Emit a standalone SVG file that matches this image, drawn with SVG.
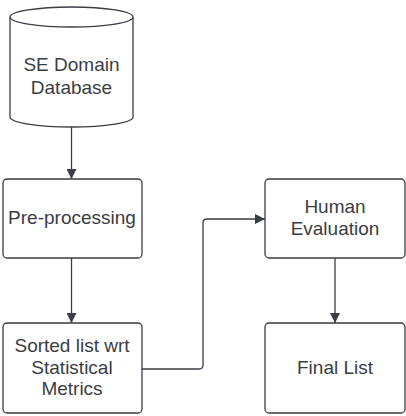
<svg xmlns="http://www.w3.org/2000/svg" width="406" height="416" viewBox="0 0 406 416">
<style>
.box{fill:#fff;stroke:#3a3d44;stroke-width:1.3}
.lbl{font-family:"Liberation Sans",Arial,sans-serif;font-size:19px;fill:#3a3d44;text-anchor:middle}
.edge{fill:none;stroke:#3a3d44;stroke-width:1.3}
</style>
<defs>
<marker id="ah" viewBox="0 0 10 10" refX="10" refY="5" markerWidth="10" markerHeight="10" markerUnits="userSpaceOnUse" orient="auto">
<path d="M0,0 L10,5 L0,10 Z" fill="#3a3d44"/>
</marker>
</defs>
<rect width="406" height="416" fill="#fff"/>
<g id="db">
<path class="box" d="M10,17 A61.5,10 0 0 1 133,17 L133,117 A61.5,10 0 0 1 10,117 Z"/>
<path class="edge" d="M10,17 A61.5,10 0 0 0 133,17"/>
<text class="lbl" x="71.5" y="71">SE Domain</text>
<text class="lbl" x="71.5" y="94">Database</text>
</g>
<g id="pre">
<rect class="box" x="3" y="179" width="139" height="79" rx="4"/>
<text class="lbl" x="72" y="224">Pre-processing</text>
</g>
<g id="sorted">
<rect class="box" x="3" y="323" width="139" height="90" rx="4"/>
<text class="lbl" x="72" y="352">Sorted list wrt</text>
<text class="lbl" x="72" y="374">Statistical</text>
<text class="lbl" x="72" y="395">Metrics</text>
</g>
<g id="human">
<rect class="box" x="265" y="179" width="140" height="79" rx="4"/>
<text class="lbl" x="335" y="213">Human</text>
<text class="lbl" x="335" y="235">Evaluation</text>
</g>
<g id="final">
<rect class="box" x="265" y="323" width="140" height="90" rx="4"/>
<text class="lbl" x="335" y="374">Final List</text>
</g>
<g id="connectors">
<path class="edge" d="M71.5,127 L71.5,179" marker-end="url(#ah)"/>
<path class="edge" d="M71.5,258 L71.5,323" marker-end="url(#ah)"/>
<path class="edge" d="M142,369 L199,369 Q203,369 203,365 L203,223 Q203,219 207,219 L265,219" marker-end="url(#ah)"/>
<path class="edge" d="M335,258 L335,323" marker-end="url(#ah)"/>
</g>
</svg>
